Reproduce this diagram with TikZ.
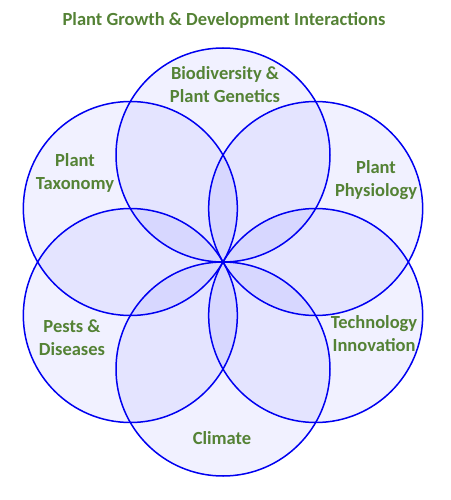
\documentclass[tikz,border=0pt]{standalone}
\usepackage{fontspec}
\setmainfont{Carlito}
\definecolor{lblgreen}{HTML}{548235}
\definecolor{ringblue}{HTML}{0000F0}
\begin{document}
\begin{tikzpicture}[x=1pt,y=-1pt,
  ring/.style={fill=blue,fill opacity=0.055},
  lbl/.style={text=lblgreen,font=\bfseries\fontsize{18.5}{23}\selectfont,align=center,inner sep=0pt}]
\useasboundingbox (0,0) rectangle (450,500);
\coordinate (c) at (223,262);
\foreach \a in {90,30,-30,-90,-150,150}{
  \path[ring] (c) ++(\a:-107) circle[radius=107];
}
\foreach \a in {90,30,-30,-90,-150,150}{
  \draw[ringblue,line width=1.5pt] (c) ++(\a:-107) circle[radius=107];
}
\node[lbl,font=\bfseries\fontsize{18.5}{20}\selectfont] (title) at (224,20) {Plant Growth \& Development Interactions};
\node[lbl] (bio) at (225,85) {Biodiversity \&\\Plant Genetics};
\node[lbl] (tax) at (75,173) {Plant\\Taxonomy};
\node[lbl] (phy) at (376,180) {Plant\\Physiology};
\node[lbl] (pest) at (72,338) {Pests \&\\Diseases};
\node[lbl] (tech) at (374,334) {Technology\\Innovation};
\node[lbl] (clim) at (222,438) {Climate};
\end{tikzpicture}
\end{document}
